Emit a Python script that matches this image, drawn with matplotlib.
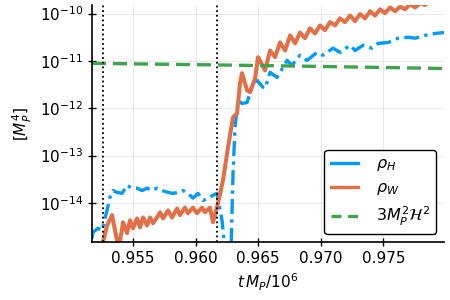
import numpy as np
import matplotlib
matplotlib.use("Agg")
import matplotlib.pyplot as plt
from matplotlib.lines import Line2D

# values; y values are log10 of the energy density
t_H = [0.95172, 0.95180, 0.95220, 0.95252, 0.95292, 0.95316, 0.95340, 0.95372, 0.95412, 0.95452,
       0.95492, 0.95532, 0.95572, 0.95612, 0.95652, 0.95692, 0.95732, 0.95780, 0.95820, 0.95860,
       0.95900, 0.95939, 0.95979, 0.96019, 0.96059, 0.96099, 0.96139, 0.96171, 0.96211, 0.96235,
       0.96259, 0.96283, 0.96299, 0.96315, 0.96339, 0.96371, 0.96411, 0.96435, 0.96459, 0.96491,
       0.96539, 0.96555, 0.96595, 0.96651, 0.96731, 0.96771, 0.96834, 0.96890, 0.96970, 0.97018,
       0.97098, 0.97154, 0.97234, 0.97274, 0.97338, 0.97410, 0.97458, 0.97538, 0.97618, 0.97698,
       0.97754, 0.97833, 0.97913, 0.97985]
logrho_H = [-14.75, -14.62, -14.54, -14.58, -14.16, -13.88, -13.74, -13.78, -13.80, -13.63,
            -13.69, -13.69, -13.74, -13.69, -13.74, -13.69, -13.74, -13.78, -13.80, -13.78,
            -13.74, -13.80, -13.90, -13.80, -13.95, -13.90, -13.84, -13.80, -14.37, -15.00,
            -16.50, -15.00, -13.38, -12.40, -11.83, -11.90, -11.88, -11.68, -11.47, -11.41,
            -11.56, -11.58, -11.24, -11.35, -10.99, -11.09, -10.88, -10.99, -10.82, -10.88,
            -10.73, -10.82, -10.67, -10.78, -10.67, -10.73, -10.63, -10.61, -10.52, -10.50,
            -10.52, -10.46, -10.42, -10.40]

t_W = [0.95172, 0.95236, 0.95260, 0.95292, 0.95332, 0.95372, 0.95388, 0.95420, 0.95452, 0.95476,
       0.95500, 0.95532, 0.95556, 0.95580, 0.95612, 0.95636, 0.95660, 0.95692, 0.95716, 0.95740,
       0.95780, 0.95812, 0.95852, 0.95876, 0.95915, 0.95939, 0.95979, 0.96011, 0.96051, 0.96075,
       0.96115, 0.96139, 0.96179, 0.96219, 0.96259, 0.96299, 0.96331, 0.96355, 0.96371, 0.96411,
       0.96435, 0.96475, 0.96499, 0.96555, 0.96595, 0.96635, 0.96675, 0.96715, 0.96755, 0.96795,
       0.96834, 0.96874, 0.96914, 0.96954, 0.96994, 0.97034, 0.97074, 0.97114, 0.97154, 0.97194,
       0.97234, 0.97274, 0.97314, 0.97354, 0.97394, 0.97434, 0.97474, 0.97514, 0.97554, 0.97594,
       0.97634, 0.97674, 0.97714, 0.97754, 0.97794, 0.97833, 0.97873, 0.97913, 0.97985]
logrho_W = [-15.30, -15.00, -14.83, -14.48, -14.26, -14.79, -14.95, -14.41, -14.64, -14.37,
            -14.54, -14.33, -14.52, -14.31, -14.48, -14.31, -14.43, -14.31, -14.20, -14.33,
            -14.16, -14.31, -14.12, -14.26, -14.10, -14.22, -14.10, -14.22, -14.10, -14.20,
            -14.10, -14.41, -14.01, -13.52, -12.83, -12.19, -12.11, -11.47, -11.26, -11.62,
            -11.66, -11.37, -10.92, -11.20, -10.78, -10.92, -10.61, -10.78, -10.46, -10.63,
            -10.40, -10.52, -10.31, -10.42, -10.25, -10.35, -10.18, -10.25, -10.10, -10.18,
            -10.04, -10.16, -10.01, -10.10, -9.95, -10.04, -9.91, -9.99, -9.87, -9.95,
            -9.85, -9.91, -9.80, -9.87, -9.78, -9.82, -9.74, -9.78, -9.70]

t_Hub = [0.95172, 0.96035, 0.96834, 0.97985]
logrho_Hub = [-11.05, -11.08, -11.11, -11.16]

t_marks = [0.95257, 0.96174]

blue = "#009AFA"
orange = "#E26F46"
green = "#3DA44D"

fig = plt.figure(figsize=(4.5, 3), dpi=100)
ax = fig.add_axes([0.2044, 0.193, 0.7823, 0.790])

ax.plot(t_H, 10 ** np.array(logrho_H), color=blue, lw=2.4, dashes=(4.5, 1.6, 1.0, 1.6))
ax.plot(t_W, 10 ** np.array(logrho_W), color=orange, lw=2.9)
ax.plot(t_Hub, 10 ** np.array(logrho_Hub), color=green, lw=2.4, dashes=(4.2, 2.1))
for tm in t_marks:
    ax.axvline(tm, color="black", lw=1.3, linestyle=(0, (1, 1.6)))

ax.set_yscale("log")
ax.set_xlim(0.95172, 0.97985)
ax.set_ylim(10 ** -14.83, 10 ** -9.82)
ax.set_xticks([0.955, 0.960, 0.965, 0.970, 0.975])
ax.set_xticklabels(["0.955", "0.960", "0.965", "0.970", "0.975"])
ax.set_yticks([1e-14, 1e-13, 1e-12, 1e-11, 1e-10])
ax.minorticks_off()
ax.grid(True, color="black", alpha=0.1, lw=0.6)
ax.tick_params(direction="inout", length=6, width=1, labelsize=11)
for s in ["top", "right"]:
    ax.spines[s].set_visible(False)
for s in ["left", "bottom"]:
    ax.spines[s].set_linewidth(1.2)

ax.set_xlabel(r"$t\,M_P/10^6$", fontsize=11)
ax.set_ylabel(r"$[M_P^4]$", fontsize=11)

handles = [Line2D([], [], color=blue, lw=2.4),
           Line2D([], [], color=orange, lw=2.4),
           Line2D([], [], color=green, lw=2.4, dashes=(3, 2))]
leg = ax.legend(handles, [r"$\rho_H$", r"$\rho_W$", r"$3M_P^2\mathcal{H}^2$"],
                loc="lower right", fontsize=11.5, framealpha=1, edgecolor="black",
                fancybox=True, handlelength=1.7, handletextpad=1.1,
                labelspacing=0.45, borderaxespad=0.5)
leg.get_frame().set_linewidth(1.0)

fig.savefig("out.png", dpi=100)
